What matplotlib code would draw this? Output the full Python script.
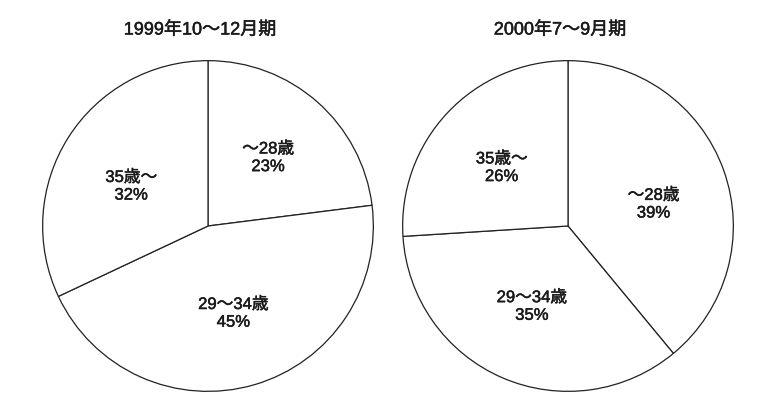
import matplotlib
matplotlib.use("Agg")
import matplotlib.pyplot as plt
import matplotlib.patheffects as pe
from matplotlib.transforms import ScaledTranslation

plt.rcParams['font.family'] = ['Liberation Sans', 'Noto Sans CJK JP', 'DejaVu Sans']

# Age-group shares of two periods
categories = ["～28歳", "29～34歳", "35歳～"]
share_1999q4 = [23, 45, 32]
share_2000q3 = [39, 35, 26]
titles = ["1999年10～12月期", "2000年7～9月期"]

fig = plt.figure(figsize=(7.79, 4.08), dpi=100)
fig.patch.set_facecolor("white")

W, H = 779, 408
radius_px = 167
centers_px = [(208, 226), (568, 226)]
# small vertical nudges (pixels, downward) for each wedge label
label_nudges = [[0, 0, 9], [9, -3, 4]]
ink = "#1a1a1a"
heavy = [pe.withStroke(linewidth=0.35, foreground=ink)]

for (cx, cy), values, title, nudges in zip(
        centers_px, [share_1999q4, share_2000q3], titles, label_nudges):
    ax = fig.add_axes([(cx - radius_px) / W, (H - cy - radius_px) / H,
                       2 * radius_px / W, 2 * radius_px / H])
    labels = [f"{c}\n{v}%" for c, v in zip(categories, values)]
    wedges, texts = ax.pie(
        values, labels=labels, startangle=90, counterclock=False,
        colors=["white"] * len(values), labeldistance=0.55,
        wedgeprops=dict(edgecolor="#222222", linewidth=0.9),
        textprops=dict(fontsize=12, color=ink),
    )
    for t, dy in zip(texts, nudges):
        t.set_ha("center")
        t.set_va("center")
        t.set_multialignment("center")
        t.set_linespacing(1.22)
        t.set_path_effects(heavy)
        t.set_transform(t.get_transform() +
                        ScaledTranslation(0, -dy / 100, fig.dpi_scale_trans))
    ax.set_xlim(-1.01, 1.01)
    ax.set_ylim(-1.01, 1.01)
    ax.set_aspect("equal")
    ax.axis("off")
    fig.text((cx - 8) / W, 1 - 30 / H, title, ha="center", va="center",
             fontsize=13, color=ink, path_effects=heavy)

fig.savefig("out.png", dpi=100, facecolor="white")
